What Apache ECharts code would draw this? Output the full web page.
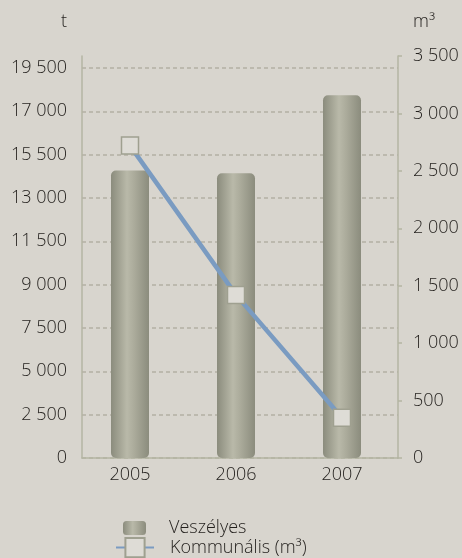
<!DOCTYPE html>
<html>
<head>
<meta charset="utf-8">
<script src="https://cdn.jsdelivr.net/npm/echarts@6/dist/echarts.min.js"></script>
<style>
  html, body { margin: 0; padding: 0; background: #d8d5ce; }
  #chart { width: 462px; height: 558px; }
</style>
</head>
<body>
<div id="chart"></div>
<script>
// Years on the category axis
const categories = ['2005', '2006', '2007'];
// Veszélyes hulladék, tonna (left axis)
const hazardous = [14370, 14240, 18140];
// Kommunális hulladék, m³ (right axis)
const municipal = [2720, 1420, 350];
// Left-axis tick labels, one per gridline from the bottom up
const leftTickLabels = ['0', '2 500', '5 000', '7 500', '9 000', '11 500', '13 000', '15 500', '17 000', '19 500'];
// Right-axis range and step (m³)
const rightMax = 3500;
const rightStep = 500;

const LEFT_STEP = 19500 / 9;
const LEFT_MAX = 20100;

const textColor = '#221f1c';
const axisColor = '#b4b5a3';
const fontFamily = 'Open Sans';
const fontSize = 18;
const fontWeight = 350;

function spaced(v) {
  return String(Math.round(v)).replace(/\B(?=(\d{3})+(?!\d))/g, ' ');
}

// gridline colours: one per tick, the extent end left invisible
const gridColors = leftTickLabels.map(() => '#b3b0a4').concat(['rgba(0,0,0,0)']);

const barFill = {
  type: 'linear', x: 0, y: 0, x2: 1, y2: 0,
  colorStops: [
    { offset: 0, color: '#8b8c7d' },
    { offset: 0.42, color: '#b9b9a9' },
    { offset: 0.6, color: '#acac9c' },
    { offset: 1, color: '#8b8c7d' }
  ]
};

const labelStyle = { fontSize: fontSize, color: textColor, fontFamily: fontFamily, fontWeight: fontWeight };

const chart = echarts.init(document.getElementById('chart'), null, { renderer: 'canvas' });

chart.setOption({
  animation: false,
  backgroundColor: '#d8d5ce',
  textStyle: { fontFamily: fontFamily },
  grid: [
    { left: 82, right: 64, top: 56, bottom: 100 },
    { left: 77, right: 67, top: 56, bottom: 100 }
  ],
  xAxis: [
    {
      gridIndex: 0, type: 'category', data: categories,
      axisLine: { show: true, lineStyle: { color: axisColor, width: 1.5 } },
      axisTick: { show: false }, axisLabel: { show: false }, splitLine: { show: false }
    },
    {
      gridIndex: 1, type: 'category', data: categories,
      axisLine: { show: false }, axisTick: { show: false },
      axisLabel: Object.assign({ margin: 8 }, labelStyle)
    }
  ],
  yAxis: [
    {
      gridIndex: 0, type: 'value', position: 'left',
      min: 0, max: LEFT_MAX, interval: LEFT_STEP,
      axisLine: { show: true, lineStyle: { color: axisColor, width: 1.5 } },
      axisTick: { show: false },
      axisLabel: Object.assign({
        margin: 15, showMaxLabel: false,
        formatter: function (v) {
          const i = v / LEFT_STEP;
          const r = Math.round(i);
          if (Math.abs(i - r) > 0.01 || r >= leftTickLabels.length) return '';
          return leftTickLabels[r];
        }
      }, labelStyle),
      splitLine: { show: true, lineStyle: { color: gridColors, type: [4, 3], width: 1.5 } }
    },
    {
      gridIndex: 0, type: 'value', position: 'right',
      min: 0, max: rightMax, interval: rightStep,
      axisLine: { show: true, lineStyle: { color: axisColor, width: 1.5 } },
      axisTick: { show: true, length: 4, lineStyle: { color: axisColor, width: 1.5 } },
      axisLabel: Object.assign({ margin: 15, formatter: spaced }, labelStyle),
      splitLine: { show: false }
    },
    { gridIndex: 1, type: 'value', min: 0, max: LEFT_MAX, show: false, splitLine: { show: false } },
    { gridIndex: 1, type: 'value', position: 'right', min: 0, max: rightMax, show: false, splitLine: { show: false } }
  ],
  legend: [
    {
      data: ['Veszélyes'], orient: 'vertical', left: 123, top: 519, padding: 0,
      itemWidth: 23, itemHeight: 14, icon: 'roundRect',
      textStyle: Object.assign({ padding: [0, 0, 0, 18] }, labelStyle),
      selectedMode: false
    },
    {
      data: ['Kommunális (m³)'], orient: 'vertical', left: 115, top: 537, padding: 0,
      itemWidth: 38, itemHeight: 24,
      textStyle: Object.assign({ padding: [0, 0, 0, 11] }, labelStyle),
      selectedMode: false
    }
  ],
  graphic: [
    { type: 'text', left: 61, top: 13, style: { text: 't', font: '350 18px "Open Sans"', fill: textColor } },
    { type: 'text', left: 413, top: 13, style: { text: 'm³', font: '350 18px "Open Sans"', fill: textColor } }
  ],
  series: [
    {
      name: 'Veszélyes', type: 'bar', xAxisIndex: 1, yAxisIndex: 2,
      data: hazardous, barWidth: 38,
      itemStyle: { color: barFill, borderRadius: 5 },
      silent: true
    },
    {
      name: 'Kommunális (m³)', type: 'line', xAxisIndex: 1, yAxisIndex: 3,
      data: municipal, z: 5,
      symbol: 'rect', symbolSize: 17,
      lineStyle: { color: '#7a9bc1', width: 4.5 },
      itemStyle: { color: '#dedcd6', borderColor: '#9fa090', borderWidth: 1.5 },
      silent: true
    }
  ]
});
</script>
</body>
</html>
